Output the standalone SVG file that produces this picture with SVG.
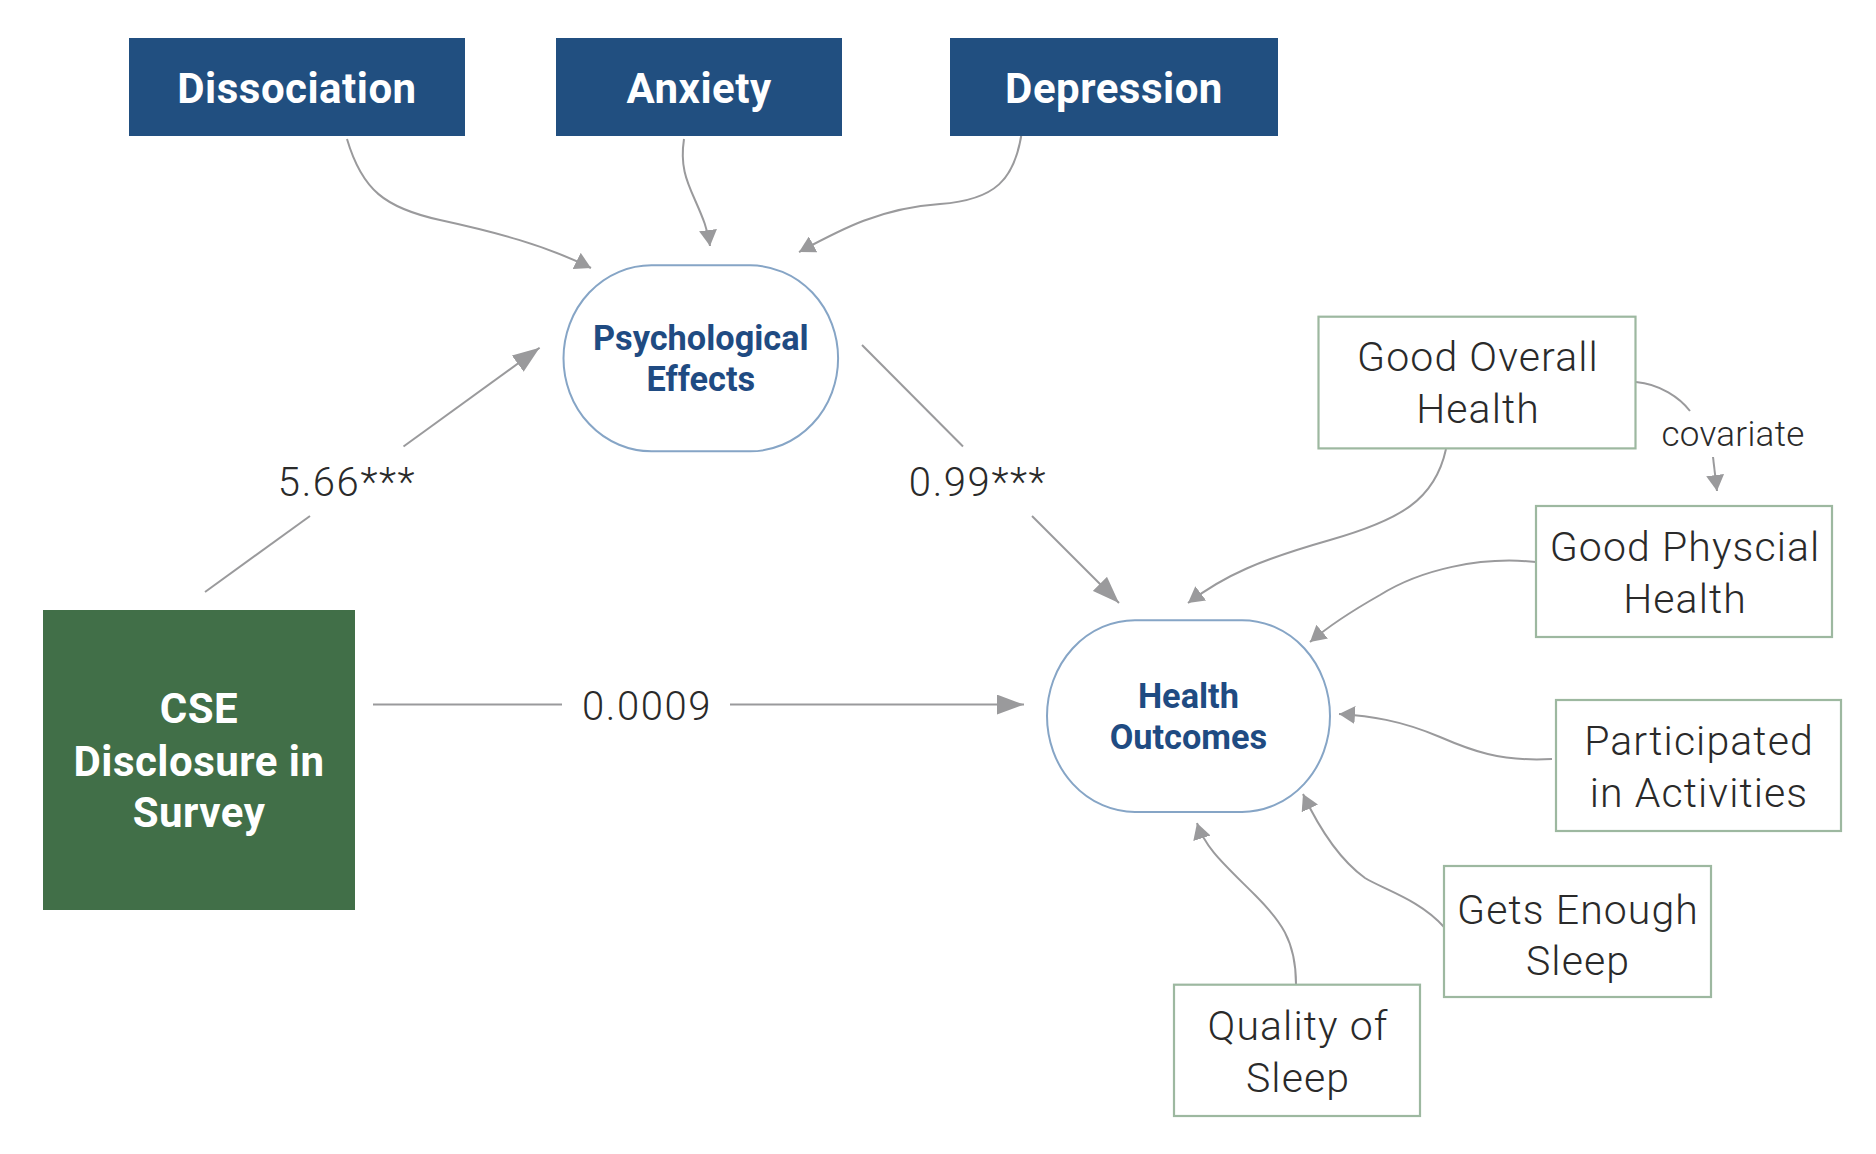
<svg xmlns="http://www.w3.org/2000/svg" width="1876" height="1154" viewBox="0 0 1876 1154">
<style>
.bg{fill:#ffffff}
.dark{fill:#214f80}
.green{fill:#416f48}
.latent{fill:#ffffff;stroke:#86a5c6;stroke-width:2}
.obs{fill:#ffffff;stroke:#9db8a0;stroke-width:2.2}
.wt{font-family:Roboto,"Liberation Sans",sans-serif;font-weight:700;fill:#ffffff;text-anchor:middle;letter-spacing:0.5px}
.bt{font-family:Roboto,"Liberation Sans",sans-serif;font-weight:700;fill:#1f4b82;text-anchor:middle;font-size:34.3px}
.lt{font-family:Roboto,"Liberation Sans",sans-serif;font-weight:300;fill:#2a2a2a;text-anchor:middle;font-size:41px;letter-spacing:1.1px}
.lab{font-family:Roboto,"Liberation Sans",sans-serif;font-weight:300;fill:#2a2a2a;text-anchor:middle;font-size:40px;letter-spacing:1.6px}
.edge{fill:none;stroke:#9a9a9c;stroke-width:2}
</style>
<defs>
<marker id="big" markerUnits="userSpaceOnUse" markerWidth="28" markerHeight="20" refX="27" refY="10" orient="auto">
<path d="M0,0 L27,10 L0,20 Z" fill="#9a9a9c"/>
</marker>
<marker id="small" markerUnits="userSpaceOnUse" markerWidth="17" markerHeight="18" refX="16" refY="9" orient="auto">
<path d="M0,0 L16,9 L0,18 Z" fill="#9a9a9c"/>
</marker>
</defs>
<rect class="bg" x="0" y="0" width="1876" height="1154"/>

<g id="connectors">
<path class="edge" d="M347,139 C362,190 385,208 440,220 C495,232 545,245 591,268" marker-end="url(#small)"/>
<path class="edge" d="M684,139 C680,165 686,180 695,200 C703,218 708,230 710,246" marker-end="url(#small)"/>
<path class="edge" d="M1022,131 C1015,180 995,200 940,204 C880,208 840,230 799,252" marker-end="url(#small)"/>
<path class="edge" d="M205,592 L310,516"/>
<path class="edge" d="M403.5,446.5 L539.6,347.8" marker-end="url(#big)"/>
<path class="edge" d="M862,345 L963,446.5"/>
<path class="edge" d="M1032,516 L1119,603" marker-end="url(#big)"/>
<path class="edge" d="M373,704.6 L562,704.6"/>
<path class="edge" d="M730,704.6 L1024,704.6" marker-end="url(#big)"/>
<path class="edge" d="M1446,449 C1435,500 1400,520 1330,540 C1260,560 1225,575 1188,603" marker-end="url(#small)"/>
<path class="edge" d="M1536,562 C1480,556 1420,570 1380,595 C1350,612 1330,625 1310,642" marker-end="url(#small)"/>
<path class="edge" d="M1552,759 C1500,762 1470,750 1440,737 C1400,720 1370,716 1339,714" marker-end="url(#small)"/>
<path class="edge" d="M1444,927 C1420,900 1385,890 1365,878 C1340,860 1320,830 1303,794" marker-end="url(#small)"/>
<path class="edge" d="M1296,984 C1296,940 1280,920 1255,895 C1225,865 1205,848 1197,823" marker-end="url(#small)"/>
<path class="edge" d="M1636,382 C1660,384 1680,398 1690,411"/>
<path class="edge" d="M1713,457 L1717,491" marker-end="url(#small)"/>
<text class="lab" x="347" y="496">5.66***</text>
<text class="lab" x="978" y="496">0.99***</text>
<text class="lab" x="647" y="720">0.0009</text>
<text class="lab" x="1733" y="446" style="font-size:35px;letter-spacing:0.3px">covariate</text>
</g>

<g id="dissociation">
<rect class="dark" x="129" y="38" width="336" height="98"/>
<text class="wt" x="297" y="103" font-size="42">Dissociation</text>
</g>
<g id="anxiety">
<rect class="dark" x="556" y="38" width="286" height="98"/>
<text class="wt" x="699" y="103" font-size="42">Anxiety</text>
</g>
<g id="depression">
<rect class="dark" x="950" y="38" width="328" height="98"/>
<text class="wt" x="1114" y="103" font-size="42">Depression</text>
</g>

<g id="psychological-effects">
<rect class="latent" x="563.5" y="265.3" width="274.6" height="186" rx="88" ry="93"/>
<text class="bt" x="700.8" y="349.6">Psychological</text>
<text class="bt" x="700.8" y="391">Effects</text>
</g>

<g id="health-outcomes">
<rect class="latent" x="1047" y="620.2" width="283" height="191.7" rx="88" ry="95.8"/>
<text class="bt" x="1188.4" y="708">Health</text>
<text class="bt" x="1188.4" y="748.5">Outcomes</text>
</g>

<g id="cse-disclosure">
<rect class="green" x="43" y="610" width="312" height="300"/>
<text class="wt" x="199" y="723" font-size="42">CSE</text>
<text class="wt" x="199" y="775.6" font-size="42">Disclosure in</text>
<text class="wt" x="199" y="827.4" font-size="42">Survey</text>
</g>

<g id="good-overall-health">
<rect class="obs" x="1318.5" y="316.7" width="317" height="131.7"/>
<text class="lt" x="1478" y="371">Good Overall</text>
<text class="lt" x="1478" y="423">Health</text>
</g>
<g id="good-physical-health">
<rect class="obs" x="1536" y="506" width="296" height="131"/>
<text class="lt" x="1685" y="560.5">Good Physcial</text>
<text class="lt" x="1685" y="613">Health</text>
</g>
<g id="participated">
<rect class="obs" x="1556" y="700" width="285" height="131"/>
<text class="lt" x="1699" y="755">Participated</text>
<text class="lt" x="1699" y="807">in Activities</text>
</g>
<g id="gets-enough-sleep">
<rect class="obs" x="1444" y="866" width="267" height="131"/>
<text class="lt" x="1578" y="923.6">Gets Enough</text>
<text class="lt" x="1578" y="975.4">Sleep</text>
</g>
<g id="quality-of-sleep">
<rect class="obs" x="1174" y="984.7" width="246" height="131.3"/>
<text class="lt" x="1298" y="1040">Quality of</text>
<text class="lt" x="1298" y="1092">Sleep</text>
</g>
</svg>
